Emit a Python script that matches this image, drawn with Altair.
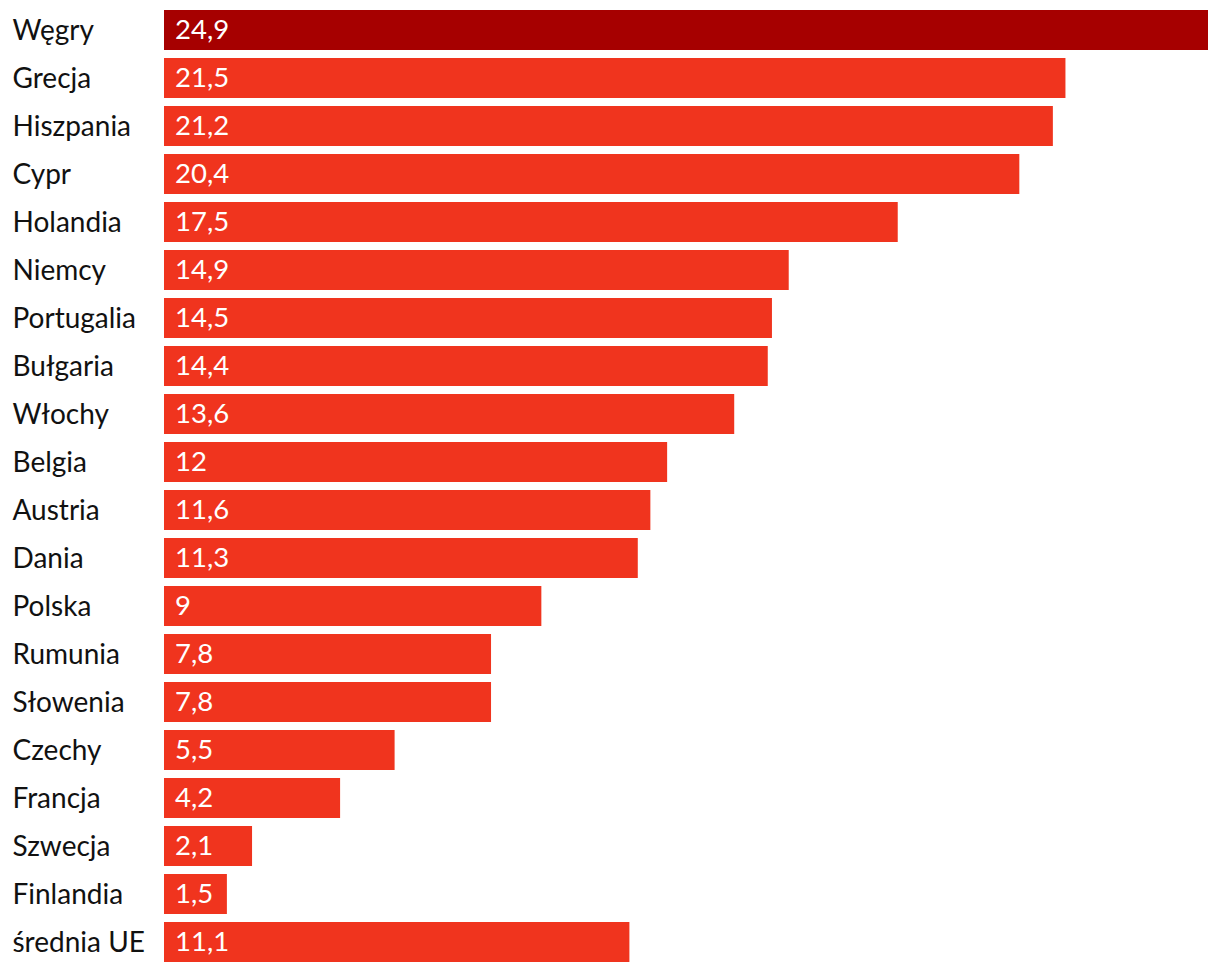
import altair as alt
import pandas as pd

countries = ["Węgry", "Grecja", "Hiszpania", "Cypr", "Holandia", "Niemcy", "Portugalia",
             "Bułgaria", "Włochy", "Belgia", "Austria", "Dania", "Polska", "Rumunia",
             "Słowenia", "Czechy", "Francja", "Szwecja", "Finlandia", "średnia UE"]
values = [24.9, 21.5, 21.2, 20.4, 17.5, 14.9, 14.5, 14.4, 13.6, 12, 11.6, 11.3, 9, 7.8,
          7.8, 5.5, 4.2, 2.1, 1.5, 11.1]
labels = ["24,9", "21,5", "21,2", "20,4", "17,5", "14,9", "14,5", "14,4", "13,6", "12",
          "11,6", "11,3", "9", "7,8", "7,8", "5,5", "4,2", "2,1", "1,5", "11,1"]
highlight = ["top"] + ["other"] * 19

df = pd.DataFrame({"kraj": countries, "wartosc": values, "etykieta": labels, "grupa": highlight})

y = alt.Y("kraj:N", sort=countries,
          scale=alt.Scale(paddingInner=8/48, paddingOuter=0, align=0),
          axis=alt.Axis(title=None, domain=False, ticks=False, labelAlign="left",
                        labelBaseline="middle", labelOffset=1.5,
                        labelPadding=152, labelFont="Lato", labelFontSize=28,
                        labelColor="#111111", labelLimit=200))
x = alt.X("wartosc:Q", scale=alt.Scale(domain=[0, 24.9], nice=False, zero=True), axis=None)

bars = alt.Chart(df).mark_bar().encode(
    x=x, y=y,
    color=alt.Color("grupa:N", scale=alt.Scale(domain=["top", "other"], range=["#A60000", "#F0341E"]), legend=None),
)
text = alt.Chart(df).mark_text(align="left", baseline="middle", dx=11, dy=1, font="Lato",
                               fontSize=27.5, color="white").encode(
    x=alt.value(0), y=y, text="etykieta:N")

chart = (bars + text).properties(
    width=1044, height=952,
    background="white",
    autosize=alt.AutoSizeParams(type="none"),
    padding={"left": 156, "top": 2, "right": 0, "bottom": 0},
).configure_view(stroke=None)

chart.save("out.html", embed_options={"renderer": "svg", "actions": False})
